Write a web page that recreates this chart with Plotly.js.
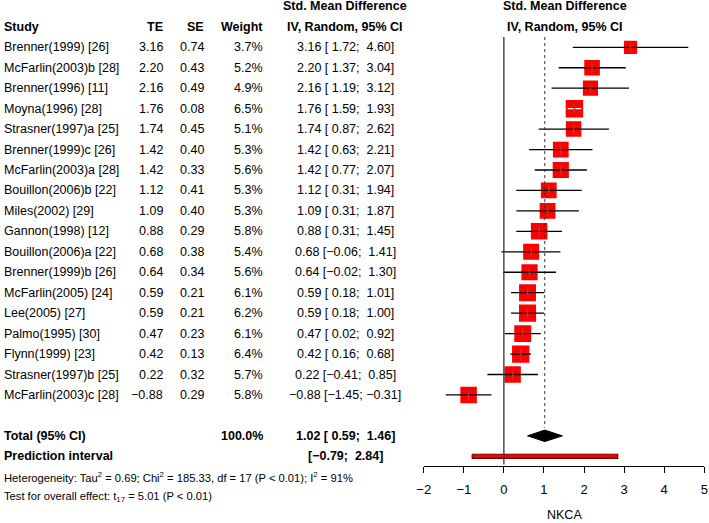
<!DOCTYPE html>
<html>
<head>
<meta charset="utf-8">
<script src="https://cdn.plot.ly/plotly-3.0.1.min.js"></script>
<style>
  html, body { margin: 0; padding: 0; background: #fff; }
  #chart { width: 709px; height: 523px; }
</style>
</head>
<body>
<div id="chart"></div>
<script>
// ── Dados ────────────────────────────────────────────────────────────────────
const studies = [
  "Brenner(1999) [26]", "McFarlin(2003)b [28]", "Brenner(1996) [11]", "Moyna(1996) [28]",
  "Strasner(1997)a [25]", "Brenner(1999)c [26]", "McFarlin(2003)a [28]", "Bouillon(2006)b [22]",
  "Miles(2002) [29]", "Gannon(1998) [12]", "Bouillon(2006)a [22]", "Brenner(1999)b [26]",
  "McFarlin(2005) [24]", "Lee(2005) [27]", "Palmo(1995) [30]", "Flynn(1999) [23]",
  "Strasner(1997)b [25]", "McFarlin(2003)c [28]"
];
const te     = [3.16, 2.20, 2.16, 1.76, 1.74, 1.42, 1.42, 1.12, 1.09, 0.88, 0.68, 0.64, 0.59, 0.59, 0.47, 0.42, 0.22, -0.88];
const se     = [0.74, 0.43, 0.49, 0.08, 0.45, 0.40, 0.33, 0.41, 0.40, 0.29, 0.38, 0.34, 0.21, 0.21, 0.23, 0.13, 0.32, 0.29];
const weight = [3.7, 5.2, 4.9, 6.5, 5.1, 5.3, 5.6, 5.3, 5.3, 5.8, 5.4, 5.6, 6.1, 6.2, 6.1, 6.4, 5.7, 5.8];
const lower  = [1.72, 1.37, 1.19, 1.59, 0.87, 0.63, 0.77, 0.31, 0.31, 0.31, -0.06, -0.02, 0.18, 0.18, 0.02, 0.16, -0.41, -1.45];
const upper  = [4.60, 3.04, 3.12, 1.93, 2.62, 2.21, 2.07, 1.94, 1.87, 1.45, 1.41, 1.30, 1.01, 1.00, 0.92, 0.68, 0.85, -0.31];

const pooled     = { te: 1.02, lower: 0.59, upper: 1.46, weight: 100.0 };
const prediction = { lower: -0.79, upper: 2.84 };

const xTicks = [-2, -1, 0, 1, 2, 3, 4, 5];
const xLabel = "NKCA";

// ── Layout em pixels ─────────────────────────────────────────────────────────
const W = 709, H = 523;
const FONT = "'Liberation Sans', Arial, sans-serif";
const FS = 12.5;
const rowY0 = 47.3, rowStep = 20.45;           // centro da linha 0 e passo
const yTop = -rowY0 / rowStep;
const yBot = (H - rowY0) / rowStep;
const rows = studies.map((_, i) => i);
const ROW_TOTAL = 19, ROW_PRED = 20, ROW_HET = 21, ROW_TEST = 22;
const pxPerUnit = (704.3 - 423.7) / 7;
const SQ_K = 6.85;                             // lado do quadrado = k * sqrt(peso)

// ── Helpers ──────────────────────────────────────────────────────────────────
function fmt(v) {
  return (v < 0 ? "\u2212" : "") + Math.abs(v).toFixed(2);
}
function pad(v) {
  return v < 0 ? fmt(v) : "\u00a0" + fmt(v);
}
function ciText(t, lo, hi) {
  return (t === null ? "" : fmt(t) + " ") + "[" + pad(lo) + "; " + pad(hi) + "]";
}
function px(x) { return x / W; }

function ann(text, xPx, row, anchor, opts = {}) {
  return Object.assign({
    text, x: px(xPx), y: row, xref: "paper", yref: "y",
    xanchor: anchor, yanchor: "middle", showarrow: false,
    font: { family: FONT, size: FS, color: "#000" },
  }, opts);
}
const bold = s => `<b>${s}</b>`;

// ── Traces ───────────────────────────────────────────────────────────────────
const sqSize = weight.map(w => SQ_K * Math.sqrt(w));
const inside = rows.map(i => (upper[i] - lower[i]) * pxPerUnit < sqSize[i]);

const squares = {
  type: "scatter", mode: "markers", x: te, y: rows, hoverinfo: "skip",
  marker: { symbol: "square", size: sqSize, color: "#ff0000", opacity: 1, line: { width: 0 } },
};

function ciSegments(keep) {
  const xs = [], ys = [];
  rows.forEach(i => {
    if (keep(i)) { xs.push(lower[i], upper[i], null); ys.push(i, i, null); }
  });
  return { xs, ys };
}
const blk = ciSegments(i => !inside[i]);
const wht = ciSegments(i => inside[i]);
const ciBlack = { type: "scatter", mode: "lines", x: blk.xs, y: blk.ys, hoverinfo: "skip",
  line: { color: "#000", width: 1.3 } };
const ciWhite = { type: "scatter", mode: "lines", x: wht.xs, y: wht.ys, hoverinfo: "skip",
  line: { color: "#fff", width: 1.3 } };

const ticks = {
  type: "scatter", mode: "markers", x: te, y: rows, hoverinfo: "skip",
  marker: { symbol: "line-ns-open", size: 7, opacity: 1,
    line: { width: 1.6, color: inside.map(f => f ? "#fff" : "#000") } },
};

const dh = 0.28;
const diamond = {
  type: "scatter", mode: "lines", fill: "toself", hoverinfo: "skip",
  x: [pooled.lower, pooled.te, pooled.upper, pooled.te, pooled.lower],
  y: [ROW_TOTAL, ROW_TOTAL - dh, ROW_TOTAL, ROW_TOTAL + dh, ROW_TOTAL],
  fillcolor: "#000", line: { color: "#000", width: 1 },
};

const ph = 0.1;
const predBar = {
  type: "scatter", mode: "lines", fill: "toself", hoverinfo: "skip",
  x: [prediction.lower, prediction.upper, prediction.upper, prediction.lower, prediction.lower],
  y: [ROW_PRED - ph, ROW_PRED - ph, ROW_PRED + ph, ROW_PRED + ph, ROW_PRED - ph],
  fillcolor: "#ff0000", line: { color: "#6b0000", width: 1.2 },
};

// ── Texto (colunas) ──────────────────────────────────────────────────────────
const COL = { study: 2, te: 165, se: 205.5, weight: 265, ci: 345, right: 565 };
const annotations = [];

annotations.push(ann(bold("Std. Mean Difference"), COL.ci, -2, "center"));
annotations.push(ann(bold("Study"), COL.study, -1, "left"));
annotations.push(ann(bold("TE"), COL.te, -1, "right"));
annotations.push(ann(bold("SE"), COL.se, -1, "right"));
annotations.push(ann(bold("Weight"), COL.weight, -1, "right"));
annotations.push(ann(bold("IV, Random, 95% CI"), COL.ci, -1, "center"));
annotations.push(ann(bold("Std. Mean Difference"), COL.right, -2, "center"));
annotations.push(ann(bold("IV, Random, 95% CI"), COL.right, -1, "center"));

rows.forEach(i => {
  annotations.push(ann(studies[i], COL.study, i, "left"));
  annotations.push(ann(fmt(te[i]), COL.te, i, "right"));
  annotations.push(ann(fmt(se[i]), COL.se, i, "right"));
  annotations.push(ann(weight[i].toFixed(1) + "%", COL.weight, i, "right"));
  annotations.push(ann(ciText(te[i], lower[i], upper[i]), COL.ci, i, "center"));
});

annotations.push(ann(bold("Total (95% CI)"), COL.study, ROW_TOTAL, "left"));
annotations.push(ann(bold(pooled.weight.toFixed(1) + "%"), COL.weight, ROW_TOTAL, "right"));
annotations.push(ann(bold(ciText(pooled.te, pooled.lower, pooled.upper)), COL.ci, ROW_TOTAL, "center"));
annotations.push(ann(bold("Prediction interval"), COL.study, ROW_PRED, "left"));
annotations.push(ann(bold(ciText(null, prediction.lower, prediction.upper)), COL.ci, ROW_PRED, "center"));

const small = { font: { family: FONT, size: 11.2, color: "#000" } };
annotations.push(ann(
  "Heterogeneity: Tau<sup>2</sup> = 0.69; Chi<sup>2</sup> = 185.33, df = 17 (P < 0.01); I<sup>2</sup> = 91%",
  COL.study, ROW_HET, "left", small));
annotations.push(ann(
  "Test for overall effect: t<sub>17</sub> = 5.01 (P < 0.01)",
  COL.study, ROW_TEST, "left", small));

annotations.push({
  text: xLabel, x: px(564), y: 1 - 515 / H, xref: "paper", yref: "paper",
  xanchor: "center", yanchor: "middle", showarrow: false,
  font: { family: FONT, size: FS, color: "#000" },
});

// ── Linhas de referência ─────────────────────────────────────────────────────
const shapes = [
  { type: "line", xref: "x", yref: "y", x0: 0, x1: 0, y0: -0.5, y1: 20.4,
    line: { color: "#333", width: 1.3 } },
  { type: "line", xref: "x", yref: "y", x0: pooled.te, x1: pooled.te, y0: -0.5, y1: 18.6,
    line: { color: "#333", width: 1, dash: "dot" } },
];

Plotly.newPlot("chart", [squares, ciBlack, ciWhite, ticks, diamond, predBar], {
  width: W, height: H,
  margin: { t: 0, r: 0, b: 0, l: 0 },
  paper_bgcolor: "#fff", plot_bgcolor: "#fff",
  showlegend: false,
  font: { family: FONT, size: FS, color: "#000" },
  xaxis: {
    domain: [423.7 / W, 704.3 / W], range: [-2, 5],
    anchor: "free", position: 1 - 466 / H,
    showline: true, linecolor: "#000", linewidth: 1,
    ticks: "outside", ticklen: 6, tickcolor: "#000", tickwidth: 1,
    ticklabelstandoff: 5,
    tickvals: xTicks, ticktext: xTicks.map(v => (v < 0 ? "\u2212" : "") + Math.abs(v)),
    tickfont: { family: FONT, size: 13, color: "#000" },
    showgrid: false, zeroline: false, fixedrange: true,
  },
  yaxis: {
    domain: [0, 1], range: [yBot, yTop], visible: false,
    showgrid: false, zeroline: false, fixedrange: true,
  },
  shapes, annotations,
}, { displayModeBar: false, staticPlot: true });
</script>
</body>
</html>
